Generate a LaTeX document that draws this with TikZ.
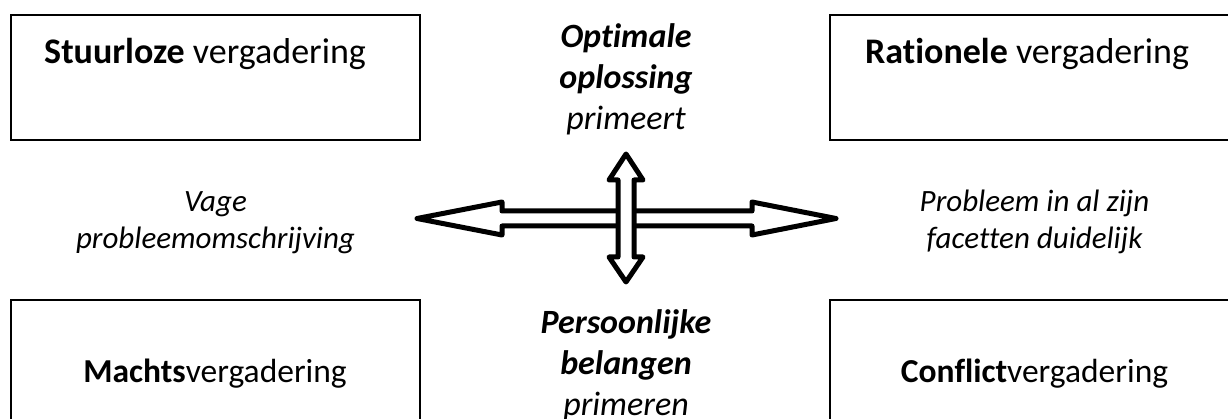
\documentclass[tikz,border=0pt]{standalone}
\usepackage{fontspec}
\setmainfont{Carlito}[Ligatures=NoCommon]
\begin{document}
\begin{tikzpicture}[x=1pt,y=-1pt,
  box/.style={draw=black, line width=2pt, minimum width=409pt, minimum height=125pt, inner sep=0pt},
  boxtext/.style={anchor=base, inner sep=0pt, font=\fontsize{36}{43}\selectfont},
  boxtextb/.style={anchor=base, inner sep=0pt, font=\fontsize{33.5}{40}\selectfont},
  midtext/.style={anchor=base, inner sep=0pt, align=center, font=\fontsize{34}{41}\selectfont\itshape},
  sidetext/.style={anchor=base, inner sep=0pt, align=center, font=\fontsize{31}{37}\selectfont\itshape},
  bigarrow/.style={draw=black, fill=white, line width=5pt, line join=round}]
\useasboundingbox (0,0) rectangle (1228,419);
\clip (0,0) rectangle (1228,419);
% boxes
\node[box] (stuur) at (215.5,77.5) {};
\node[box] (ratio) at (1034.5,77.5) {};
\node[box] (macht) at (215.5,363) {};
\node[box] (confl) at (1034.5,363) {};
\node[boxtext] (tstuur) at (205,64) {\textbf{Stuurloze} vergadering};
\node[boxtext] (tratio) at (1027,64) {\textbf{Rationele} vergadering};
\node[boxtextb] (tmacht) at (215,382) {\textbf{Machts}vergadering};
\node[boxtextb] (tconfl) at (1034.5,382) {\textbf{Conflict}vergadering};
% centre texts
\node[midtext] (top) at (626,130) {\textbf{Optimale}\\\textbf{oplossing}\\primeert};
\node[midtext] (bot) at (626,415) {\textbf{Persoonlijke}\\\textbf{belangen}\\primeren};
\node[sidetext] (left) at (215.5,249) {Vage\\probleemomschrijving};
\node[sidetext] (right) at (1034.5,249) {Probleem in al zijn\\facetten duidelijk};
% horizontal double arrow
\draw[bigarrow] (417,218.5) -- (502,202) -- (502,211) -- (752,211) -- (752,202) -- (836,218.5)
  -- (752,235) -- (752,226) -- (502,226) -- (502,235) -- cycle;
% vertical double arrow
\draw[bigarrow] (626,154) -- (643,180) -- (634,180) -- (634,257) -- (643,257) -- (626,282)
  -- (609,257) -- (618,257) -- (618,180) -- (609,180) -- cycle;
\end{tikzpicture}
\end{document}
